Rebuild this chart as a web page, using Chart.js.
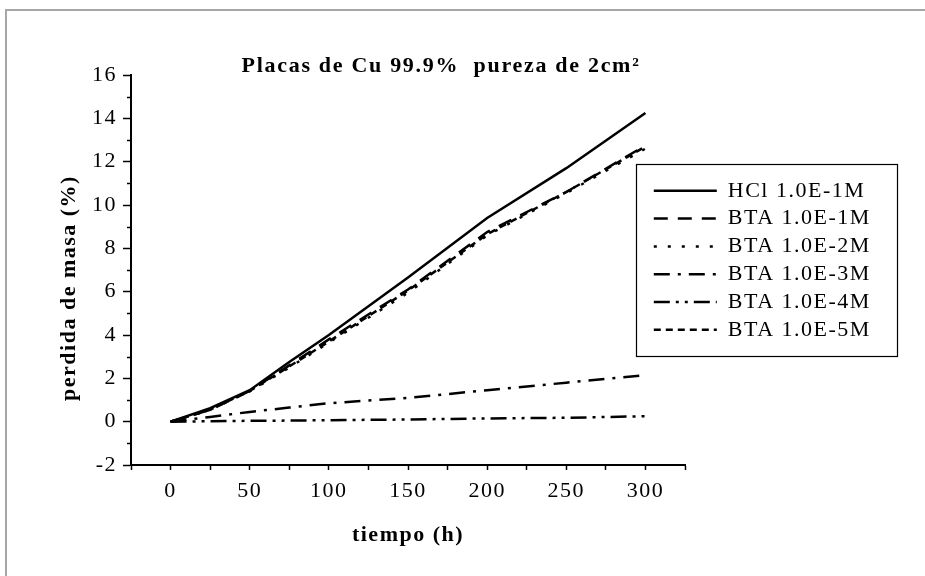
<!DOCTYPE html>
<html lang="es">
<head>
<meta charset="UTF-8">
<title>Placas de Cu 99.9% pureza de 2cm²</title>
<script src="https://cdn.jsdelivr.net/npm/chart.js@4.4.1/dist/chart.umd.min.js"></script>
<style>
    html, body { margin: 0; padding: 0; background: #fff; }
    .frame { position: relative; width: 925px; height: 576px; overflow: hidden; background: #fff; }
    /* marco gris (solo arriba e izquierda, como en la exportación original) */
    .frame::before {
        content: '';
        position: absolute;
        left: 5px; top: 9px; right: -10px; bottom: -10px;
        border-top: 2px solid #a6a6a6;
        border-left: 2px solid #a6a6a6;
    }
    canvas { position: absolute; left: 0; top: 0; }
</style>
</head>
<body>
<div class="frame"><canvas id="chart" width="925" height="576"></canvas></div>
<script>
// --- 1. datos ---
const chartTitle = 'Placas de Cu 99.9%  pureza de 2cm²';
const xTitle = 'tiempo (h)';
const yTitle = 'perdida de masa (%)';

const tiempo = [0, 25, 50, 75, 100, 150, 200, 250, 300];
const hcl1e1 = [0, 0.62, 1.45, 2.75, 4.0, 6.65, 9.4, 11.7, 14.25];
const bta1e1 = [0, 0.55, 1.42, 2.6, 3.8, 6.1, 8.75, 10.6, 12.75];
const bta1e2 = [0, 0.55, 1.4, 2.5, 3.65, 5.95, 8.6, 10.55, 12.6];
const bta1e3 = [0, 0.22, 0.45, 0.65, 0.85, 1.1, 1.45, 1.8, 2.15];
const bta1e4 = [0, 0.02, 0.04, 0.05, 0.07, 0.1, 0.15, 0.18, 0.25];
const bta1e5 = [0, 0.55, 1.42, 2.55, 3.7, 6.05, 8.65, 10.6, 12.7];

const seriesLabels = ['HCl 1.0E-1M', 'BTA 1.0E-1M', 'BTA 1.0E-2M', 'BTA 1.0E-3M', 'BTA 1.0E-4M', 'BTA 1.0E-5M'];

// marcas de los ejes
const xTicks = [-25, 0, 25, 50, 75, 100, 125, 150, 175, 200, 225, 250, 275, 300, 325];
const xLabels = [0, 50, 100, 150, 200, 250, 300];
const yTicks = [-2, 0, 2, 4, 6, 8, 10, 12, 14, 16];
const yMinorTicks = [-1, 1, 3, 5, 7, 9, 11, 13, 15];

// --- 2. estilos ---
const FONT = "'Liberation Serif', 'Times New Roman', serif";
const TEXT_SPACING = '1.5px';
const LINE_WIDTH = 2.5;
const dashes = [[], [14, 10], [3, 11], [16, 8, 3, 8], [16, 6, 3, 6, 3, 6], [7, 5]];

Chart.defaults.font.family = FONT;
Chart.defaults.color = '#000';

function toPoints(values) {
    return tiempo.map((t, i) => ({ x: t, y: values[i] }));
}

const series = [hcl1e1, bta1e1, bta1e2, bta1e3, bta1e4, bta1e5];
const datasets = series.map((values, i) => ({
    label: seriesLabels[i],
    data: toPoints(values),
    borderColor: '#000',
    backgroundColor: 'transparent',
    borderWidth: LINE_WIDTH,
    borderDash: dashes[i],
    pointRadius: 0,
    tension: 0,
    fill: false
}));

/** etiquetas de la leyenda: muestra de línea con el mismo trazo que la serie */
function legendLabels(chart) {
    const base = Chart.defaults.plugins.legend.labels.generateLabels(chart);
    return base.map((item, i) => ({
        ...item,
        pointStyle: 'line',
        rotation: 180,
        lineDash: dashes[i],
        lineWidth: LINE_WIDTH,
        strokeStyle: '#000',
        fillStyle: 'transparent'
    }));
}

// --- 3. plugins ---

/** espaciado de letras para todo el texto del lienzo */
const letterSpacing = {
    id: 'letterSpacing',
    beforeUpdate(chart) { chart.ctx.letterSpacing = TEXT_SPACING; },
    beforeDraw(chart) { chart.ctx.letterSpacing = TEXT_SPACING; }
};

/** mueve la leyenda dentro del área del gráfico y dibuja su marco */
const legendPlacement = {
    id: 'legendPlacement',
    afterLayout(chart) {
        const lg = chart.legend;
        const w = lg.width, h = lg.height;
        lg.left = 648;
        lg.top = 174;
        lg.right = lg.left + w;
        lg.bottom = lg.top + h;
    },
    afterDraw(chart) {
        const ctx = chart.ctx;
        ctx.save();
        ctx.strokeStyle = '#000';
        ctx.lineWidth = 1.2;
        ctx.strokeRect(636.5, 164.5, 261, 192);
        ctx.restore();
    }
};

/** marcas menores del eje y */
const minorTicks = {
    id: 'minorTicks',
    afterDraw(chart) {
        const { ctx, scales: { y } } = chart;
        ctx.save();
        ctx.strokeStyle = '#000';
        ctx.lineWidth = 1.5;
        yMinorTicks.forEach(v => {
            const py = Math.round(y.getPixelForValue(v)) + 0.5;
            ctx.beginPath();
            ctx.moveTo(y.right - 4, py);
            ctx.lineTo(y.right, py);
            ctx.stroke();
        });
        ctx.restore();
    }
};

/** título del gráfico y título del eje y (desplazado como en el original) */
const plotTitles = {
    id: 'plotTitles',
    afterDraw(chart) {
        const ctx = chart.ctx;
        ctx.save();
        ctx.fillStyle = '#000';
        ctx.textAlign = 'center';
        ctx.letterSpacing = '1.7px';
        ctx.font = 'bold 22px ' + FONT;
        ctx.textBaseline = 'alphabetic';
        ctx.fillText(chartTitle, 441, 72);

        ctx.letterSpacing = TEXT_SPACING;
        ctx.textBaseline = 'middle';
        ctx.translate(69, 288);
        ctx.rotate(-Math.PI / 2);
        ctx.fillText(yTitle, 0, 0);
        ctx.restore();
    }
};

// --- 4. gráfico ---
const ctx = document.getElementById('chart').getContext('2d');

new Chart(ctx, {
    type: 'line',
    data: { datasets },
    options: {
        responsive: false,
        animation: false,
        layout: { padding: { top: 75, right: 240, bottom: 0, left: 0 } },
        plugins: {
            title: { display: false },
            tooltip: { enabled: false },
            legend: {
                position: 'chartArea',
                align: 'start',
                labels: {
                    usePointStyle: true,
                    pointStyleWidth: 63,
                    boxHeight: 22,
                    padding: 5.8,
                    color: '#000',
                    font: { size: 22, family: FONT },
                    generateLabels: legendLabels
                }
            }
        },
        scales: {
            x: {
                type: 'linear',
                min: -25,
                max: 325,
                afterBuildTicks: scale => { scale.ticks = xTicks.map(v => ({ value: v })); },
                afterFit: scale => { scale.height = 111; },
                ticks: {
                    autoSkip: false,
                    maxRotation: 0,
                    padding: 8,
                    color: '#000',
                    font: { size: 22 },
                    callback: v => xLabels.includes(v) ? String(v) : ''
                },
                grid: {
                    drawOnChartArea: false,
                    tickLength: 5,
                    tickWidth: 1.5,
                    tickColor: '#000'
                },
                border: { color: '#000', width: 2 },
                title: {
                    display: true,
                    text: xTitle,
                    font: { size: 22, weight: 'bold', lineHeight: 1 },
                    padding: { top: 0, bottom: 30 }
                }
            },
            y: {
                type: 'linear',
                min: -2,
                max: 16,
                afterBuildTicks: scale => { scale.ticks = yTicks.map(v => ({ value: v })); },
                afterFit: scale => { scale.width = 131; },
                ticks: {
                    padding: 6,
                    color: '#000',
                    font: { size: 22 }
                },
                grid: {
                    drawOnChartArea: false,
                    tickLength: 8,
                    tickWidth: 1.5,
                    tickColor: '#000'
                },
                border: { color: '#000', width: 2 },
                title: { display: false }
            }
        }
    },
    plugins: [letterSpacing, legendPlacement, minorTicks, plotTitles]
});
</script>
</body>
</html>
